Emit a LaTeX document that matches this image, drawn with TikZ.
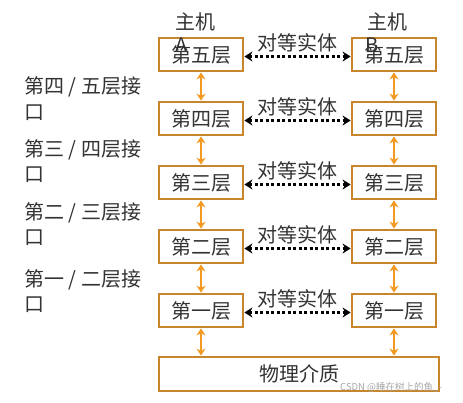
\documentclass[tikz,border=0pt]{standalone}
\usepackage{fontspec}
\setmainfont{Noto Sans CJK SC}
\usetikzlibrary{arrows.meta}
\definecolor{boxc}{HTML}{C8862C}
\definecolor{arrc}{HTML}{F29A22}
\definecolor{txt}{HTML}{333333}
\tikzset{
  layer/.style={draw=boxc, line width=2.8pt, minimum width=84pt, minimum height=33pt, inner sep=0pt, text=txt, font=\fontsize{20}{22}\selectfont},
  vlink/.style={draw=arrc, line width=2.8pt, {Stealth[length=7pt,width=9pt]}-{Stealth[length=7pt,width=9pt]}},
  peer/.style={draw=black, line width=3pt, dash pattern=on 3pt off 2.5pt, {Stealth[length=8pt,width=10pt]}-{Stealth[length=8pt,width=10pt]}},
  lbl/.style={text=txt, font=\fontsize{20}{22}\selectfont, inner sep=0pt},
  iface/.style={text=txt, font=\fontsize{20}{22}\selectfont, inner sep=0pt, anchor=west}
}
\begin{document}
\begin{tikzpicture}[x=1pt,y=-1pt]
\useasboundingbox (0,0) rectangle (463,402);
% layers
\node[layer] (a5) at (201,54.5) {第五层};
\node[layer] (a4) at (201,118.5) {第四层};
\node[layer] (a3) at (201,182.5) {第三层};
\node[layer] (a2) at (201,246.5) {第二层};
\node[layer] (a1) at (201,310.5) {第一层};
\node[layer] (b5) at (394,54.5) {第五层};
\node[layer] (b4) at (394,118.5) {第四层};
\node[layer] (b3) at (394,182.5) {第三层};
\node[layer] (b2) at (394,246.5) {第二层};
\node[layer] (b1) at (394,310.5) {第一层};
\node[layer, minimum width=280pt, minimum height=34pt] (phy) at (299,374) {物理介质};
% host labels
\node[lbl] (ha) at (195,22) {主机};
\node[lbl] (hb) at (387,22) {主机};
\node[lbl] (la) at (182,45) {A};
\node[lbl] (lb) at (372,45) {B};
% vertical links
\foreach \u/\l in {a5/a4,a4/a3,a3/a2,a2/a1,b5/b4,b4/b3,b3/b2,b2/b1}{
  \draw[vlink] (\u.south) -- (\l.north);
}
\coordinate (pa) at (phy.north -| a1.south);
\coordinate (pb) at (phy.north -| b1.south);
\draw[vlink] (a1.south) -- (pa);
\draw[vlink] (b1.south) -- (pb);
% peer links
\foreach \i in {5,4,3,2,1}{
  \draw[peer] ([yshift=-2pt]a\i.east) -- node[lbl, above=3pt] {对等实体} ([yshift=-2pt]b\i.west);
}
% interface labels
\node[iface] (i45) at (24,87) {第四 / 五层接};
\node[iface] (i45b) at (24,113) {口};
\node[iface] (i34) at (24,150) {第三 / 四层接};
\node[iface] (i34b) at (24,175) {口};
\node[iface] (i23) at (24,213) {第二 / 三层接};
\node[iface] (i23b) at (24,238) {口};
\node[iface] (i12) at (24,280) {第一 / 二层接};
\node[iface] (i12b) at (24,305) {口};
% watermark
\node[text=black!35, font=\fontsize{9.5}{10}\selectfont, inner sep=0pt, anchor=west] (wm) at (340,387) {CSDN @睡在树上的鱼\_-};
\end{tikzpicture}
\end{document}
